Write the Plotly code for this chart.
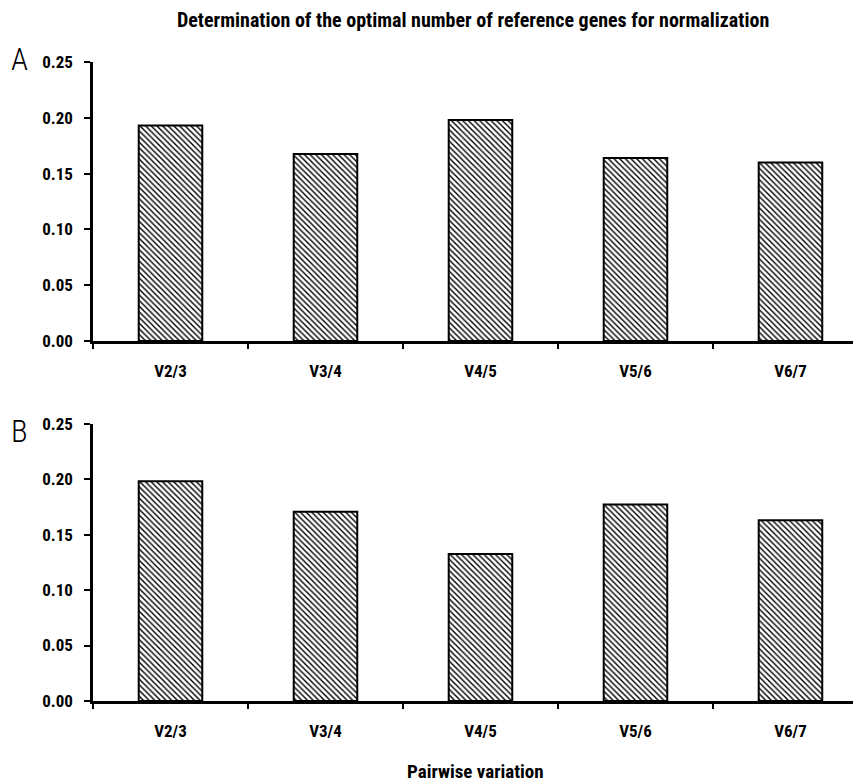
import plotly.graph_objects as go

categories = ["V2/3", "V3/4", "V4/5", "V5/6", "V6/7"]
values_a = [0.193, 0.1675, 0.198, 0.164, 0.160]
values_b = [0.198, 0.1705, 0.1325, 0.177, 0.163]
y_ticks = [0.00, 0.05, 0.10, 0.15, 0.20, 0.25]
y_tick_text = ["0.00", "0.05", "0.10", "0.15", "0.20", "0.25"]

FONT = "Roboto Condensed, Liberation Sans, sans-serif"

# the page body has an 8px margin; lay out in page pixels and shift by it
OFF = 8
W, H = 861 - OFF, 784 - OFF
L = 93 - OFF


def py(y):
    return 1 - (y - OFF) / H


def px(x):
    return (x - OFF - L) / (W - L)


fig = go.Figure()


def bar(vals, xa, ya):
    return go.Bar(
        x=categories, y=vals, xaxis=xa, yaxis=ya, width=0.41,
        marker=dict(color="white",
                    line=dict(color="black", width=2),
                    pattern=dict(shape="\\", size=4, solidity=0.35,
                                 fgcolor="black", bgcolor="white", fillmode="replace")),
        showlegend=False, hoverinfo="x+y",
    )


fig.add_trace(bar(values_a, "x", "y"))
fig.add_trace(bar(values_b, "x2", "y2"))

xr = [-0.5, 4.455]

common_x = dict(
    type="category", range=xr, showline=True, linecolor="black", linewidth=2.5,
    ticks="outside", tickson="boundaries", ticklen=5, tickwidth=2, tickcolor="black",
    showgrid=False, zeroline=False, automargin=False,
    tickfont=dict(family=FONT, size=17, color="black", weight="bold"),
    ticklabelstandoff=13,
)
common_y = dict(
    range=[0, 0.25], tickvals=y_ticks, ticktext=y_tick_text,
    showline=True, linecolor="black", linewidth=2.5,
    ticks="outside", ticklen=6, tickwidth=2, tickcolor="black",
    showgrid=False, zeroline=False, automargin=False,
    tickfont=dict(family=FONT, size=17, color="black", weight="bold"),
    ticklabelstandoff=8,
)

fig.update_layout(
    template="none",
    width=W, height=H,
    margin=dict(l=L, r=0, t=0, b=0, autoexpand=False),
    plot_bgcolor="white", paper_bgcolor="white",
    xaxis=dict(domain=[0, 1], anchor="y", **common_x),
    yaxis=dict(domain=[py(341), py(62)], anchor="x", **common_y),
    xaxis2=dict(domain=[0, 1], anchor="y2", **common_x),
    yaxis2=dict(domain=[py(701), py(423.6)], anchor="x2", **common_y),
    annotations=[
        dict(text="<b>Determination of the optimal number of reference genes for normalization</b>",
             xref="paper", yref="paper", x=px(473), y=py(20),
             xanchor="center", yanchor="middle", showarrow=False,
             font=dict(family=FONT, size=20, color="black")),
        dict(text="<b>Pairwise variation</b>",
             xref="paper", yref="paper", x=px(475), y=py(771),
             xanchor="center", yanchor="middle", showarrow=False,
             font=dict(family=FONT, size=19, color="black")),
        dict(text="A", xref="paper", yref="paper", x=px(9), y=py(60),
             xanchor="left", yanchor="middle", showarrow=False,
             font=dict(family=FONT, size=31, color="black", weight=300)),
        dict(text="B", xref="paper", yref="paper", x=px(9), y=py(432),
             xanchor="left", yanchor="middle", showarrow=False,
             font=dict(family=FONT, size=31, color="black", weight=300)),
    ],
)

fig.write_html("out.html")
